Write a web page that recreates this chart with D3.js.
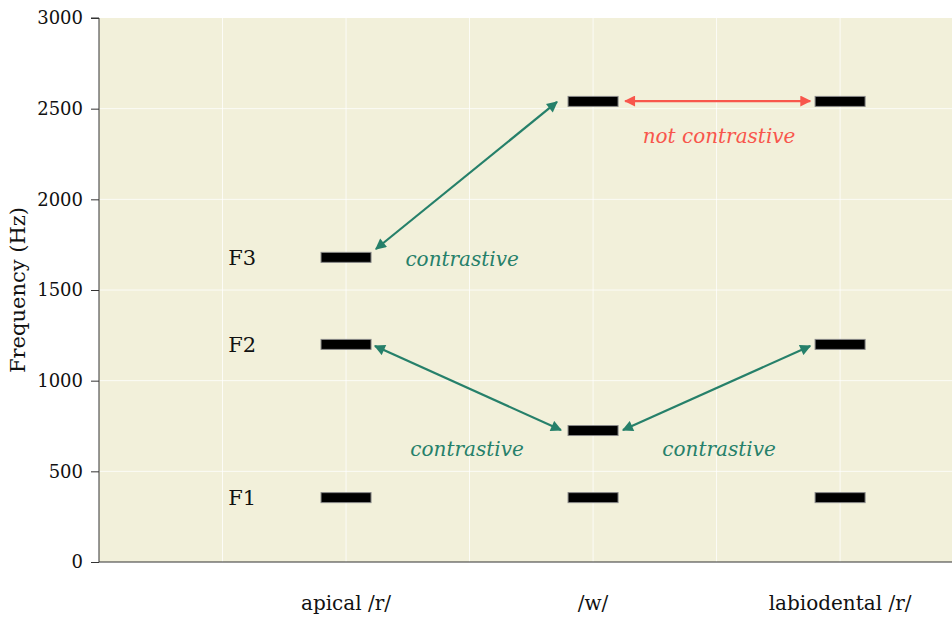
<!DOCTYPE html>
<html><head><meta charset="utf-8">
<script src="https://cdn.jsdelivr.net/npm/d3@7"></script>
<style>body{margin:0;background:#fff;} text{font-family:"DejaVu Serif",serif;}</style>
</head><body><svg id="c" width="952" height="617"></svg>
<script>
const categories = ["apical /r/", "/w/", "labiodental /r/"];
const catPos = [1, 2, 3];
const formantNames = ["F1", "F2", "F3"];
const F1 = [355, 355, 355];
const F2 = [1200, 725, 1200];
const F3 = [1680, 2540, 2540];
const yTicks = [0, 500, 1000, 1500, 2000, 2500, 3000];
const xGrid = [0.5, 1, 1.5, 2, 2.5, 3];
const formantLabelX = 0.58;
const annotations = [
  {text: "contrastive", x: 1.47, y: 1670, color: "green"},
  {text: "contrastive", x: 1.49, y: 625, color: "green"},
  {text: "contrastive", x: 2.51, y: 625, color: "green"},
  {text: "not contrastive", x: 2.51, y: 2350, color: "red"}
];
// double-headed annotation arrows: [x1, y1] -> [x2, y2] in data units (x) and Hz (y)
const arrows = [
  {from: [1.121, 1726], to: [1.854, 2537], color: "green"},
  {from: [1.117, 1191], to: [1.870, 728], color: "green"},
  {from: [2.879, 1191], to: [2.121, 728], color: "green"},
  {from: [2.130, 2542], to: [2.879, 2542], color: "red"}
];

const colors = {green: "#26806a", red: "#f8564c"};
const W = 952, H = 617;
const m = {left: 99, right: 0, top: 18, bottom: 55};
const svg = d3.select("#c");
const x = d3.scaleLinear().domain([0, 3.453]).range([m.left, W - m.right]);
const y = d3.scaleLinear().domain([0, 3000]).range([H - m.bottom, m.top]);
const formants = [F1, F2, F3];

svg.append("rect").attr("x", m.left).attr("y", m.top)
  .attr("width", W - m.right - m.left).attr("height", H - m.bottom - m.top)
  .attr("fill", "#f2f0da");

svg.append("g").selectAll("line").data(xGrid).join("line")
  .attr("x1", d => x(d)).attr("x2", d => x(d))
  .attr("y1", m.top).attr("y2", H - m.bottom)
  .attr("stroke", "#ffffff").attr("stroke-width", 1).attr("opacity", 0.8);
svg.append("g").selectAll("line").data(yTicks.slice(1, -1)).join("line")
  .attr("x1", m.left).attr("x2", W - m.right)
  .attr("y1", d => y(d)).attr("y2", d => y(d))
  .attr("stroke", "#ffffff").attr("stroke-width", 1).attr("opacity", 0.8);

// y axis
const ya = svg.append("g").attr("transform", `translate(${m.left},0)`)
  .call(d3.axisLeft(y).tickValues(yTicks).tickSize(8).tickPadding(8).tickFormat(d3.format("d")));
ya.select(".domain").attr("stroke", "#333").attr("d", `M-8,${y(3000)}H0V${y(0)}`);
ya.selectAll(".tick line").attr("stroke", "#333");
ya.selectAll("text").attr("font-family", "DejaVu Serif").attr("font-size", 18).attr("fill", "#111");
// x axis line
svg.append("line").attr("x1", m.left).attr("x2", W - m.right)
  .attr("y1", y(0)).attr("y2", y(0)).attr("stroke", "#333").attr("stroke-width", 1);

// category labels
svg.append("g").selectAll("text").data(categories).join("text")
  .attr("x", (d, i) => x(catPos[i])).attr("y", 610)
  .attr("text-anchor", "middle").attr("font-size", 20).attr("fill", "#111")
  .text(d => d);

svg.append("text").attr("transform", `translate(25,${(m.top + H - m.bottom) / 2}) rotate(-90)`)
  .attr("text-anchor", "middle").attr("font-size", 21).attr("fill", "#111").text("Frequency (Hz)");

// formant labels
svg.append("g").selectAll("text").data(formantNames).join("text")
  .attr("x", x(formantLabelX)).attr("y", (d, i) => y(formants[i][0]))
  .attr("dy", "0.35em").attr("text-anchor", "middle").attr("font-size", 21).attr("fill", "#111")
  .text(d => d);

// bars
const barW = 50, barH = 10;
const bars = [];
formants.forEach((f, fi) => f.forEach((v, ci) => bars.push({ci, v})));
svg.append("g").selectAll("rect").data(bars).join("rect")
  .attr("x", d => x(catPos[d.ci]) - barW / 2).attr("y", d => y(d.v) - barH / 2)
  .attr("width", barW).attr("height", barH)
  .attr("fill", "#000").attr("stroke", "#888").attr("stroke-width", 1);

// arrow markers
const defs = svg.append("defs");
Object.entries(colors).forEach(([k, c]) => {
  ["s", "e"].forEach(t => {
    defs.append("marker").attr("id", `m-${k}-${t}`).attr("viewBox", "0 0 10 10")
      .attr("refX", 9).attr("refY", 5).attr("markerWidth", 5.5).attr("markerHeight", 5)
      .attr("markerUnits", "strokeWidth")
      .attr("orient", t === "e" ? "auto" : "auto-start-reverse")
      .append("path").attr("d", "M0,0L10,5L0,10z").attr("fill", c);
  });
});

svg.append("g").selectAll("line").data(arrows).join("line")
  .attr("x1", d => x(d.from[0])).attr("y1", d => y(d.from[1]))
  .attr("x2", d => x(d.to[0])).attr("y2", d => y(d.to[1]))
  .attr("stroke", d => colors[d.color]).attr("stroke-width", 2.2)
  .attr("marker-start", d => `url(#m-${d.color}-s)`)
  .attr("marker-end", d => `url(#m-${d.color}-e)`);

svg.append("g").selectAll("text").data(annotations).join("text")
  .attr("x", d => x(d.x)).attr("y", d => y(d.y)).attr("dy", "0.35em")
  .attr("text-anchor", "middle").attr("font-style", "italic").attr("font-size", 20)
  .attr("fill", d => colors[d.color]).text(d => d.text);
</script></body></html>
